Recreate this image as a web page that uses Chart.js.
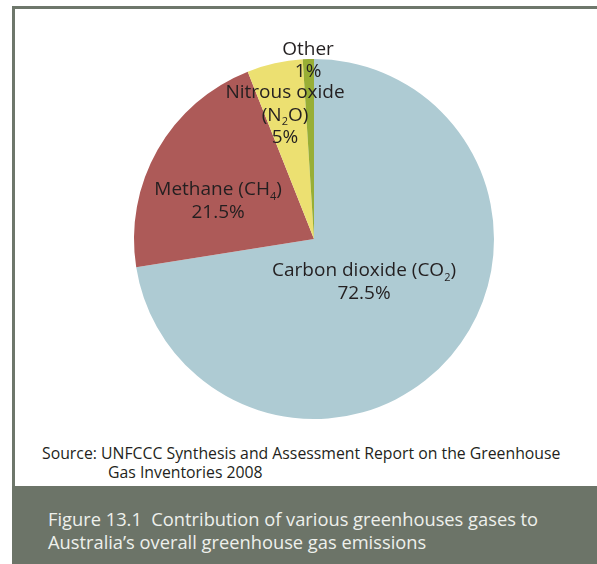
<!DOCTYPE html>
<html>
<head>
<meta charset="utf-8">
<script src="https://cdn.jsdelivr.net/npm/chart.js@4"></script>
<style>
  html, body { margin: 0; padding: 0; background: #ffffff; }
  body { width: 597px; height: 564px; position: relative; overflow: hidden; font-family: "Open Sans", "Noto Sans", sans-serif; }
  #panel { position: absolute; left: 12px; top: 6px; width: 600px; height: 480px; box-sizing: border-box;
           border-left: 3px solid #6e776b; border-top: 3px solid #6e776b; background: #ffffff; }
  #caption { position: absolute; left: 12px; top: 486px; width: 600px; height: 78px; background: #6c7468; }
  .cap { position: absolute; left: 48px; color: #eef0ec; font-size: 18.3px; white-space: nowrap; }
  .src { position: absolute; color: #231f20; font-size: 15.8px; white-space: nowrap; }
  #chartBox { position: absolute; left: 0; top: 0; width: 597px; height: 564px; }
</style>
</head>
<body>
<div id="panel"></div>
<div id="caption"></div>
<div class="src" style="left:42px; top:442px;">Source: UNFCCC Synthesis and Assessment Report on the Greenhouse</div>
<div class="src" style="left:108px; top:461px;">Gas Inventories 2008</div>
<div class="cap" style="top:506px;">Figure 13.1&nbsp; Contribution of various greenhouses gases to</div>
<div class="cap" style="top:529px;">Australia’s overall greenhouse gas emissions</div>
<div id="chartBox"><canvas id="chart"></canvas></div>
<script>
// Gas names; "_x" marks a subscript character, "\n" a line break.
const gases = ['Carbon dioxide (CO_2)', 'Methane (CH_4)', 'Nitrous oxide\n(N_2O)', 'Other'];
// Share of total emissions, per cent.
const shares = [72.5, 21.5, 5, 1];
const sliceColours = ['#aecbd3', '#ad5a58', '#ece071', '#98ae35'];

// Label anchor for each slice, as offsets from the pie centre in units of the radius.
const labelOffsets = [
  [0.278, 0.178],
  [-0.533, -0.272],
  [-0.161, -0.811],
  [-0.033, -1.055]
];

const FONT = '"Open Sans", "Noto Sans", sans-serif';
const LABEL_SIZE = 19;

// Split a label line into normal / subscript runs.
function runs(line) {
  const out = [];
  let buf = '';
  for (let i = 0; i < line.length; i++) {
    if (line[i] === '_' && i + 1 < line.length) {
      if (buf) out.push({ t: buf, sub: false });
      buf = '';
      out.push({ t: line[i + 1], sub: true });
      i++;
    } else {
      buf += line[i];
    }
  }
  if (buf) out.push({ t: buf, sub: false });
  return out;
}

function drawLine(ctx, line, cx, cy, size) {
  const parts = runs(line);
  const subSize = Math.round(size * 0.6);
  let total = 0;
  parts.forEach(p => {
    ctx.font = (p.sub ? subSize : size) + 'px ' + FONT;
    p.w = ctx.measureText(p.t).width;
    total += p.w;
  });
  let x = cx - total / 2;
  parts.forEach(p => {
    ctx.font = (p.sub ? subSize : size) + 'px ' + FONT;
    ctx.fillText(p.t, x, p.sub ? cy + size * 0.35 : cy);
    x += p.w;
  });
}

const sliceLabels = {
  id: 'sliceLabels',
  afterDatasetsDraw(chart) {
    const ctx = chart.ctx;
    const meta = chart.getDatasetMeta(0);
    ctx.save();
    ctx.fillStyle = '#231f20';
    ctx.textBaseline = 'middle';
    ctx.textAlign = 'left';
    meta.data.forEach((arc, i) => {
      const r = arc.outerRadius;
      const lines = gases[i].split('\n').concat([shares[i] + '%']);
      const x0 = arc.x + labelOffsets[i][0] * r;
      const y0 = arc.y + labelOffsets[i][1] * r;
      lines.forEach((ln, k) => drawLine(ctx, ln, x0, y0 + k * 22.5, LABEL_SIZE));
    });
    ctx.restore();
  }
};

new Chart(document.getElementById('chart'), {
  type: 'pie',
  data: {
    labels: gases.map(g => g.replace(/_/g, '').replace('\n', ' ')),
    datasets: [{
      data: shares,
      backgroundColor: sliceColours,
      borderWidth: 0
    }]
  },
  options: {
    responsive: true,
    maintainAspectRatio: false,
    animation: false,
    layout: { padding: { left: 134, top: 59, right: 103, bottom: 145 } },
    plugins: {
      legend: { display: false },
      tooltip: { enabled: false }
    }
  },
  plugins: [sliceLabels]
});
</script>
</body>
</html>
